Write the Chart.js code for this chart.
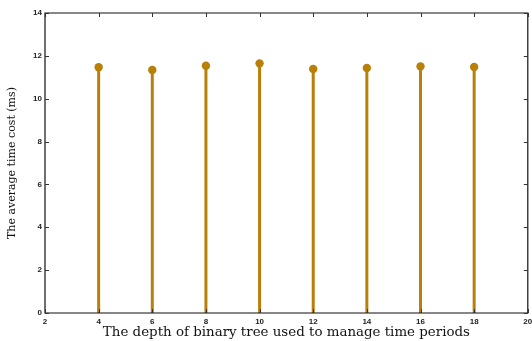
<!DOCTYPE html>
<html>
<head>
<meta charset="utf-8">
<script src="https://cdn.jsdelivr.net/npm/chart.js@4/dist/chart.umd.min.js"></script>
<style>
html,body{margin:0;padding:0;background:#fff;}
#wrap{width:532px;height:341px;position:relative;}
</style>
</head>
<body>
<div id="wrap"><canvas id="c" width="532" height="341"></canvas></div>
<script>
// ---- data ----
const depths = [4, 6, 8, 10, 12, 14, 16, 18];
const avgTimeMs = [11.47, 11.34, 11.54, 11.65, 11.39, 11.43, 11.51, 11.48];
const xTicks = [2, 4, 6, 8, 10, 12, 14, 16, 18, 20];
const yTicks = [0, 2, 4, 6, 8, 10, 12, 14];
const xTitle = 'The depth of binary tree used to manage time periods';
const yTitle = 'The average time cost (ms)';

const stemColor = '#b98009';

// stems: (x,0)->(x,v), broken by nulls
const stemData = [];
depths.forEach((d, i) => {
  stemData.push({x: d, y: 0});
  stemData.push({x: d, y: avgTimeMs[i]});
  stemData.push({x: d, y: null});
});
const markerData = depths.map((d, i) => ({x: d, y: avgTimeMs[i]}));

const boxTicks = {
  id: 'boxTicks',
  afterDraw(chart) {
    const ctx = chart.ctx;
    const a = chart.chartArea;
    const xs = chart.scales.x, ys = chart.scales.y;
    ctx.save();
    ctx.strokeStyle = '#111';
    ctx.lineWidth = 1.2;
    ctx.beginPath();
    ctx.rect(a.left, a.top, a.right - a.left, a.bottom - a.top);
    ctx.stroke();
    ctx.lineWidth = 1;
    ctx.strokeStyle = '#333';
    const L = 4;
    ctx.beginPath();
    xTicks.forEach(v => {
      const px = Math.round(xs.getPixelForValue(v)) + 0.5;
      ctx.moveTo(px, a.bottom); ctx.lineTo(px, a.bottom - L);
      ctx.moveTo(px, a.top); ctx.lineTo(px, a.top + L);
    });
    yTicks.forEach(v => {
      const py = Math.round(ys.getPixelForValue(v)) + 0.5;
      ctx.moveTo(a.left, py); ctx.lineTo(a.left + L, py);
      ctx.moveTo(a.right, py); ctx.lineTo(a.right - L, py);
    });
    ctx.stroke();
    ctx.restore();
  }
};

new Chart(document.getElementById('c'), {
  type: 'scatter',
  data: {
    datasets: [
      {
        data: stemData,
        showLine: true,
        spanGaps: false,
        borderColor: stemColor,
        borderWidth: 3,
        pointRadius: 0,
        borderCapStyle: 'butt'
      },
      {
        data: markerData,
        showLine: false,
        pointRadius: 4.2,
        pointBackgroundColor: stemColor,
        pointBorderColor: stemColor,
        pointBorderWidth: 0
      }
    ]
  },
  options: {
    responsive: false,
    animation: false,
    events: [],
    layout: {padding: {top: 13, right: 3, left: 0, bottom: 0}},
    plugins: {legend: {display: false}, tooltip: {enabled: false}},
    scales: {
      x: {
        type: 'linear',
        min: 2, max: 20,
        afterBuildTicks(s) { s.ticks = xTicks.map(v => ({value: v})); },
        afterFit(s) { s.height = 28; s.paddingRight = 0; s.paddingLeft = 0; },
        grid: {display: false, drawTicks: false},
        border: {display: false},
        ticks: {
          padding: 4,
          color: '#222',
          font: {family: 'Liberation Sans', size: 8, weight: 'bold'},
          maxRotation: 0
        },
        title: {
          display: true,
          text: xTitle,
          color: '#111',
          padding: {top: 0, bottom: 0},
          font: {family: 'DejaVu Serif', size: 13.4}
        }
      },
      y: {
        type: 'linear',
        min: 0, max: 14,
        afterBuildTicks(s) { s.ticks = yTicks.map(v => ({value: v})); },
        afterFit(s) { s.width = 45; s.paddingTop = 0; s.paddingBottom = 0; },
        grid: {display: false, drawTicks: false},
        border: {display: false},
        ticks: {
          padding: 3,
          color: '#222',
          font: {family: 'Liberation Sans', size: 8, weight: 'bold'}
        },
        title: {
          display: true,
          text: yTitle,
          color: '#111',
          padding: {top: 6, bottom: 0},
          font: {family: 'DejaVu Serif', size: 11}
        }
      }
    }
  },
  plugins: [boxTicks]
});
</script>
</body>
</html>
